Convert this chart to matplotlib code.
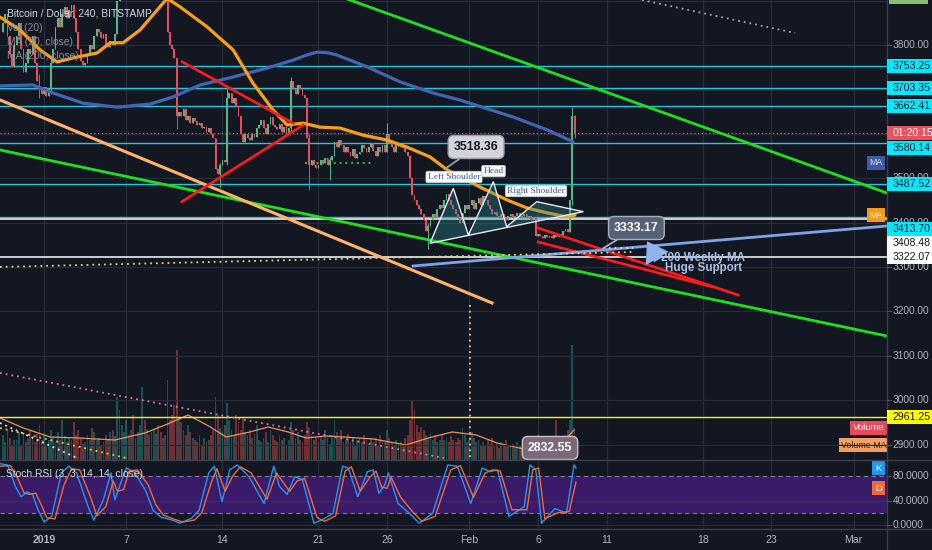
import numpy as np
import matplotlib
matplotlib.use('Agg')
import matplotlib.pyplot as plt
from matplotlib.lines import Line2D
from matplotlib.patches import Rectangle, Polygon

# x is measured in days since 2019-01-01 00:00, one candle every 4 hours
FIRST_DAY = -3.0
FIRST_OPEN = 3830.0
CLOSES = [
    3850, 3870, 3820, 3780, 3750, 3800,  # Dec 29
    3820, 3850, 3790, 3740, 3760, 3790,  # Dec 30
    3780, 3820, 3760, 3720, 3700, 3690,  # Dec 31
    3705, 3685, 3700, 3760, 3790, 3840,  # Jan 1
    3860, 3840, 3870, 3885, 3860, 3880,  # Jan 2
    3890, 3860, 3830, 3790, 3765, 3755,  # Jan 3
    3760, 3780, 3800, 3790, 3820, 3835,  # Jan 4
    3830, 3815, 3825, 3800, 3795, 3810,  # Jan 5
    3800, 3825, 3900, 3980, 4010, 4020,  # Jan 6
    4040, 4010, 4030, 4000, 3985, 4010,  # Jan 7
    4030, 4070, 4010, 4020, 4000, 4015,  # Jan 8
    4020, 4040, 4010, 4000, 4010, 3995,  # Jan 9
    3830, 3800, 3790, 3770, 3640, 3650,  # Jan 10
    3640, 3655, 3630, 3640, 3625, 3635,  # Jan 11
    3628, 3620, 3625, 3612, 3616, 3605,  # Jan 12
    3612, 3600, 3590, 3520, 3510, 3530,  # Jan 13
    3540, 3536, 3680, 3692, 3670, 3680,  # Jan 14
    3662, 3640, 3600, 3582, 3600, 3590,  # Jan 15
    3585, 3600, 3592, 3612, 3620, 3630,  # Jan 16
    3612, 3600, 3622, 3638, 3620, 3615,  # Jan 17
    3610, 3622, 3605, 3615, 3600, 3612,  # Jan 18
    3720, 3700, 3690, 3710, 3700, 3688,  # Jan 19
    3680, 3590, 3530, 3542, 3530, 3522,  # Jan 20
    3530, 3540, 3535, 3545, 3530, 3540,  # Jan 21
    3550, 3582, 3570, 3585, 3575, 3560,  # Jan 22
    3570, 3560, 3550, 3565, 3545, 3555,  # Jan 23
    3560, 3575, 3568, 3560, 3570, 3580,  # Jan 24
    3562, 3550, 3570, 3558, 3575, 3560,  # Jan 25
    3600, 3580, 3570, 3560, 3580, 3570,  # Jan 26
    3575, 3568, 3560, 3550, 3500, 3462,  # Jan 27
    3450, 3440, 3430, 3420, 3405, 3380,  # Jan 28
    3392, 3405, 3420, 3410, 3430, 3440,  # Jan 29
    3432, 3452, 3465, 3450, 3440, 3430,  # Jan 30
    3420, 3410, 3400, 3422, 3440, 3430,  # Jan 31
    3440, 3452, 3430, 3445, 3455, 3440,  # Feb 1
    3460, 3450, 3440, 3430, 3420, 3425,  # Feb 2
    3415, 3410, 3420, 3410, 3405, 3415,  # Feb 3
    3420, 3410, 3415, 3422, 3410, 3415,  # Feb 4
    3420, 3410, 3415, 3405, 3410, 3370,  # Feb 5
    3375, 3370, 3365, 3372, 3368, 3370,  # Feb 6
    3365, 3372, 3368, 3375, 3370, 3380,  # Feb 7
    3385, 3378, 3450, 3640, 3601,        # Feb 8
]
VOLUMES = [
    1250, 900, 1500, 1100, 750, 1000,
    1000, 1400, 750, 1250, 900, 1100,
    1500, 1100, 900, 1300, 1750, 1000,
    1250, 750, 1000, 1500, 1100, 900,
    1400, 1000, 2000, 1200, 900, 1100,
    1000, 1900, 1250, 1500, 1100, 800,
    900, 1250, 1000, 1600, 1400, 1000,
    1100, 750, 900, 1250, 1000, 1400,
    1500, 1200, 3150, 2500, 1750, 1400,
    2000, 1250, 1500, 2250, 1100, 1400,
    1750, 3650, 2000, 1500, 1250, 1400,
    1500, 1300, 1750, 1400, 1100, 1250,
    4000, 2000, 2250, 2750, 5500, 2100,
    1900, 1500, 1250, 1750, 1400, 1100,
    1000, 900, 1250, 750, 1100, 900,
    1000, 1250, 1500, 3150, 2250, 1600,
    1400, 1750, 2850, 2000, 1500, 1250,
    2250, 1900, 1500, 2100, 1400, 1250,
    1500, 1100, 1300, 1750, 1000, 900,
    1100, 1400, 900, 1500, 1250, 1000,
    900, 1250, 1000, 1100, 750, 1000,
    1900, 1500, 1100, 1400, 1000, 900,
    1250, 1900, 1600, 1300, 1000, 1100,
    900, 1200, 1000, 1500, 1100, 800,
    1250, 2000, 1400, 1100, 1500, 900,
    1000, 1300, 900, 1100, 750, 1000,
    1100, 900, 1250, 1000, 800, 1100,
    900, 1100, 750, 1250, 1000, 900,
    1500, 1100, 900, 750, 1000, 800,
    900, 750, 1100, 1250, 2000, 3000,
    2500, 1750, 1400, 1650, 1500, 1250,
    1100, 1300, 1000, 1250, 900, 1000,
    1250, 1000, 1100, 900, 1200, 1000,
    900, 1100, 1000, 1600, 1250, 900,
    1000, 1400, 1100, 900, 1000, 750,
    900, 750, 1000, 800, 1100, 700,
    800, 600, 900, 700, 1000, 750,
    700, 800, 600, 900, 750, 650,
    750, 600, 900, 700, 800, 1100,
    1250, 900, 750, 1000, 800, 700,
    800, 900, 2000, 1100, 750, 1000,
    1250, 1500, 2000, 5750, 1600,
]
# candle index -> (high, low) for the visible wicks
WICKS = {16: (3735, 3680), 21: (3775, 3690), 76: (3770, 3610), 95: (3535, 3480),
         98: (3700, 3530), 126: (3728, 3605), 134: (3600, 3473), 143: (3548, 3496),
         168: (3625, 3560), 186: (3400, 3340), 249: (3660, 3440), 250: (3642, 3590)}

MA50_DAYS = [-3.21, -1.75, -0.29, 0.95, 2.41, 3.86, 4.81, 5.76, 7.0, 8.0, 8.97, 9.91, 11.88,
             13.78, 15.23, 16.69, 17.71, 18.88, 20.12, 21.57, 23.25, 25.0, 26.46, 28.13,
             29.37, 31.78, 33.75, 35.2, 36.66, 38.12, 38.7]
MA50_VALS = [3863, 3834, 3789, 3762, 3773, 3782, 3805, 3805, 3834, 3870, 3905, 3886, 3841,
             3789, 3714, 3654, 3620, 3624, 3615, 3613, 3597, 3586, 3570, 3548,
             3519, 3480, 3451, 3433, 3422, 3413, 3417]
MA200_DAYS = [-3.21, -0.80, 0.66, 2.84, 5.32, 7.73, 9.40, 11.37, 13.78, 16.25, 18.15, 19.2,
              19.9, 20.6, 21.3, 23.54, 25.95, 28.35, 30.32, 34.18, 36.66, 38.56]
MA200_VALS = [3708, 3710, 3692, 3669, 3660, 3667, 3683, 3710, 3728, 3748, 3766, 3778,
              3784, 3783, 3778, 3751, 3717, 3692, 3676, 3638, 3609, 3582]

VMA_DAYS = [-3.21, -1.5, 0.44, 2.5, 5.17, 7.36, 9.0, 10.5, 12.0, 13.27, 15.0, 16.33, 17.8,
            19.1, 20.5, 21.87, 24.0, 26.38, 28.0, 29.74, 31.5, 33.02, 35.28, 37.5, 38.63]
VMA_VALS = [2100, 1600, 1150, 1100, 1000, 1350, 1800, 2250, 1700, 1150, 1400, 1650, 1400,
            1100, 1200, 1150, 1050, 750, 1100, 1400, 1250, 850, 500, 650, 1500]

K_DAYS = [-3.21, -2.65, -2.09, -1.67, -1.25, -0.84, -0.42, 0.0, 0.56, 1.26, 1.81, 2.37, 3.21,
          3.63, 4.32, 4.88, 5.16, 5.58, 6.0, 6.55, 7.39, 7.95, 8.51, 9.35, 9.91, 10.74, 11.3,
          12.0, 12.41, 12.97, 13.53, 14.09, 14.93, 16.04, 16.74, 17.16, 17.71, 18.27, 18.83,
          19.67, 20.23, 21.06, 21.76, 22.18, 22.87, 23.57, 23.99, 24.41, 24.83, 25.1, 25.8,
          26.64, 27.34, 28.32, 29.43, 30.13, 31.1, 31.94, 32.5, 33.05, 33.89, 35.0, 35.42,
          35.84, 36.26, 37.24, 38.08, 38.63, 38.77]
K_VALS = [100, 98, 63, 46, 54, 50, 24, 5, 14, 85, 96, 85, 30, 8, 41, 85, 41, 68, 93, 87,
          57, 24, 13, 8, 3, 11, 24, 85, 96, 38, 90, 98, 79, 35, 96, 63, 50, 79, 74, 3,
          8, 19, 96, 93, 46, 87, 90, 52, 65, 85, 35, 19, 3, 19, 98, 96, 35, 93, 87, 90,
          14, 30, 98, 90, 3, 27, 19, 98, 93]
D_DAYS = [-3.21, -2.45, -1.9, -1.45, -1.05, -0.6, -0.2, 0.2, 0.8, 1.45, 2.0, 2.6, 3.4, 3.85,
          4.5, 5.05, 5.35, 5.8, 6.2, 6.8, 7.6, 8.15, 8.7, 9.55, 10.1, 10.95, 11.5, 12.2, 12.6,
          13.2, 13.75, 14.3, 15.1, 16.25, 16.95, 17.35, 17.9, 18.45, 19.0, 19.9, 20.45, 21.25,
          21.95, 22.4, 23.05, 23.75, 24.2, 24.6, 25.0, 25.3, 26.0, 26.85, 27.55, 28.5, 29.65,
          30.35, 31.3, 32.15, 32.7, 33.25, 34.1, 35.2, 35.62, 36.05, 36.5, 37.45, 38.28, 38.77]
D_VALS = [96, 97, 75, 52, 50, 52, 33, 12, 10, 65, 92, 90, 45, 15, 30, 72, 55, 58, 88, 90,
          65, 33, 16, 9, 5, 8, 20, 70, 92, 55, 80, 95, 85, 42, 85, 72, 55, 72, 76, 12,
          6, 15, 88, 95, 55, 78, 88, 62, 60, 78, 45, 22, 6, 14, 90, 97, 45, 85, 90, 88,
          25, 25, 90, 93, 10, 20, 22, 70]

CYAN_LEVELS = [3753.25, 3703.35, 3662.41, 3580.14, 3487.52, 3413.70]
WHITE_LEVELS = [3408.48, 3322.07]
YELLOW_LEVEL = 2961.25
TOP_TAG = 3901.26
COUNTDOWN = '01:20:15'

# drawings, (day, price) end points
GREEN_LINES = [((21.5, 3910.3), (61.44, 3466.7)), ((-3.21, 3563.6), (61.44, 3144.6))]
PEACH_LINE = ((-3.21, 3676.2), (32.65, 3219.0))
RED_LINES = [((10.06, 3762.4), (18.17, 3623.7)), ((10.04, 3447.1), (18.90, 3619.9)),
             ((36.01, 3387.9), (50.58, 3237.0)), ((36.01, 3356.4), (48.76, 3255.0))]
WEEKLY_MA200 = ((26.90, 3302.3), (61.44, 3392.4))
HS_POINTS = [(28.13, 3353.4), (29.83, 3477.3), (30.93, 3372.1), (32.75, 3492.2),
             (33.72, 3390.8), (35.91, 3447.1), (39.31, 3424.6)]
HS_LABELS = [('Left Shoulder', 29.88, 3502.7), ('Head', 32.76, 3516.0),
             ('Right Shoulder', 35.86, 3471.2)]
CALLOUT_HI = ('3518.36', (29.23, 3521.0), (31.49, 3570.3))
CALLOUT_LO = ('3333.17', (40.74, 3342.0), (43.18, 3387.9))
CALLOUT_VOL = ('2832.55', (36.88, 2892.4))
SUPPORT_ARROW = ((44.75, 3316.0), (43.95, 3358.0))
SUPPORT_TEXT = [('200 Weekly MA', 48.05, 3321.4), ('Huge Support', 48.05, 3296.7)]
DOTTED_LINES = [  # (start, end, colour)
    ((-3.21, 3300.1), (42.93, 3333.8), '#e3d36a'),
    ((40.74, 3342.2), (42.93, 3342.2), '#d8dce6'),
    ((19.02, 3534.3), (23.91, 3534.3), '#43d13a'),
    ((-3.21, 3061.3), (29.15, 2869.9), '#d9789b'),
    ((-3.21, 2948.7), (2.41, 2869.8), '#e8e8e8'),
    ((-3.21, 2937.4), (5.98, 2869.8), '#e3c84a'),
    ((31.05, 3214.4), (31.05, 2865.0), '#e8c79a'),
    ((43.59, 3901.4), (54.74, 3827.1), '#a0a4ad'),
]

PRICE_TICKS = [2900, 3000, 3100, 3200, 3300, 3400, 3500, 3800]
STOCH_TICKS = [0, 40, 80]
DATE_TICKS = [0, 6, 13, 20, 25, 31, 36, 41, 48, 53, 59]
DATE_LABELS = ['2019', '7', '14', '21', '26', 'Feb', '6', '11', '18', '23', 'Mar']

# view ranges
X_RANGE = (-3.21, 61.44)
PRICE_RANGE = (2865.3, 3901.4)
VOL_RANGE = (0, 23000)
STOCH_RANGE = (-6.5, 106.1)

BG = '#131722'
GRID = '#282c38'
TXT = '#b2b5be'
UP, DOWN = '#53b987', '#eb4d5c'
CYAN = '#22c7dc'
TAG_SHIFT_PX = {3580.14: 5, 3413.70: 12.5, 3408.48: 24}
AXIS_FS = 7.3
TAG_FS = 7.6

plt.rcParams['font.family'] = ['Liberation Sans', 'DejaVu Sans']

W, H = 932, 550
fig = plt.figure(figsize=(W / 100, H / 100), dpi=100, facecolor=BG)
main_rect = [0, 1 - 460 / H, 887 / W, 460 / H]
ax_vol = fig.add_axes(main_rect, zorder=0)
ax = fig.add_axes(main_rect, zorder=1)
ax_pr = fig.add_axes([887 / W, 1 - 460 / H, 45 / W, 460 / H], zorder=2)
ax_st = fig.add_axes([0, 1 - 529 / H, 887 / W, 69 / H], zorder=1)
ax_sr = fig.add_axes([887 / W, 1 - 529 / H, 45 / W, 69 / H], zorder=2)
for a in (ax_vol, ax, ax_pr, ax_st, ax_sr):
    a.set_axis_off()
for a in (ax_vol, ax, ax_st):
    a.set_xlim(*X_RANGE)
ax.set_ylim(*PRICE_RANGE)
ax_pr.set_ylim(*PRICE_RANGE)
ax_pr.set_xlim(0, 1)
ax_vol.set_ylim(*VOL_RANGE)
ax_st.set_ylim(*STOCH_RANGE)
ax_sr.set_ylim(*STOCH_RANGE)
ax_sr.set_xlim(0, 1)

upx = (PRICE_RANGE[1] - PRICE_RANGE[0]) / 460.0
vpx = (VOL_RANGE[1] - VOL_RANGE[0]) / 460.0
spx = (STOCH_RANGE[1] - STOCH_RANGE[0]) / 69.0

# grid
for d in DATE_TICKS:
    ax_vol.axvline(d, color=GRID, lw=0.9, zorder=0)
    ax_st.axvline(d, color=GRID, lw=0.9, zorder=0)
for p in range(2900, 3901, 100):
    ax.axhline(p, color=GRID, lw=0.9, zorder=0)

# candles and volume
closes = np.array(CLOSES, float)
opens = np.r_[FIRST_OPEN, closes[:-1]]
days = FIRST_DAY + np.arange(len(closes)) / 6.0
up = closes >= opens
highs = np.maximum(opens, closes)
lows = np.minimum(opens, closes)
for i, (hi, lo) in WICKS.items():
    highs[i] = max(highs[i], hi)
    lows[i] = min(lows[i], lo)
cols = np.where(up, UP, DOWN)
ax_vol.bar(days, VOLUMES, width=0.13, color=np.where(up, '#26a69a', '#ef5350'), alpha=0.42, zorder=1)
ax_vol.plot(VMA_DAYS, VMA_VALS, color='#e8955a', lw=0.9, zorder=2)
ax.vlines(days, lows, highs, colors=cols, lw=0.7, zorder=3)
ax.bar(days, np.maximum(np.abs(closes - opens), 1.5), bottom=np.minimum(opens, closes),
       width=0.13, color=cols, zorder=3)

# horizontal levels
for p in CYAN_LEVELS:
    ax.axhline(p, color=CYAN, lw=1.0, zorder=2)
for p in WHITE_LEVELS:
    ax.axhline(p, color='white', lw=1.1, zorder=2)
ax.axhline(YELLOW_LEVEL, color='#f5f500', lw=1.0, zorder=2)
ax.axhline(closes[-1], color='#ef5350', lw=0.9, ls=(0, (1, 2)), zorder=2)

# moving averages
ax.plot(MA200_DAYS, MA200_VALS, color='#4264b4', lw=2.3, zorder=4, solid_capstyle='round')
ax.plot(MA50_DAYS, MA50_VALS, color='#f5a016', lw=2.3, zorder=4, solid_capstyle='round')

# trend lines
for (a0, a1) in GREEN_LINES:
    ax.plot([a0[0], a1[0]], [a0[1], a1[1]], color='#1ee01e', lw=2.0, zorder=5)
ax.plot([PEACH_LINE[0][0], PEACH_LINE[1][0]], [PEACH_LINE[0][1], PEACH_LINE[1][1]],
        color='#ffb26b', lw=2.2, zorder=5)
for (a0, a1) in RED_LINES:
    ax.plot([a0[0], a1[0]], [a0[1], a1[1]], color='#ff1b1b', lw=1.9, zorder=5)
ax.plot([WEEKLY_MA200[0][0], WEEKLY_MA200[1][0]], [WEEKLY_MA200[0][1], WEEKLY_MA200[1][1]],
        color='#7fa3e6', lw=2.0, zorder=5)
for (a0, a1, c) in DOTTED_LINES:
    ax.plot([a0[0], a1[0]], [a0[1], a1[1]], color=c, lw=1.3, ls=(0, (1, 2.2)), zorder=5)

# head and shoulders
ax.add_patch(Polygon(HS_POINTS, closed=True, fc='#2a8f94', alpha=0.35, ec='none', zorder=5))
ax.add_patch(Polygon(HS_POINTS, closed=True, fill=False, ec='#e8eaee', lw=1.0, zorder=6))
for txt, d, p in HS_LABELS:
    ax.text(d, p, txt, ha='center', va='center', fontsize=6.8, color='#3d5aa8',
            family='Liberation Serif', zorder=8,
            bbox=dict(boxstyle='round,pad=0.18', fc='white', ec='#c8ccd4', lw=0.6))

# callouts
for (txt, anchor, box), fc, ec, tc in ((CALLOUT_HI, '#d2d4d8', '#9a9ea6', '#131722'),
                                       (CALLOUT_LO, '#566176', '#a6afbf', 'white')):
    ax.annotate(txt, xy=anchor, xytext=box, ha='center', va='center', fontsize=8.8,
                fontweight='bold', color=tc, zorder=8,
                bbox=dict(boxstyle='round,pad=0.45', fc=fc, ec=ec, lw=1.0),
                arrowprops=dict(arrowstyle='-', color=ec, lw=1.3, shrinkA=0, shrinkB=0))
ax.text(CALLOUT_VOL[1][0], CALLOUT_VOL[1][1], CALLOUT_VOL[0], ha='center', va='center',
        fontsize=8.8, fontweight='bold', color='white', zorder=8,
        bbox=dict(boxstyle='round,pad=0.45', fc='#7c6878', ec='#c9c0c8', lw=1.0))
ax.annotate('', xy=SUPPORT_ARROW[1], xytext=SUPPORT_ARROW[0], zorder=8,
            arrowprops=dict(arrowstyle='simple,tail_width=0.4,head_width=1.2,head_length=0.9',
                            mutation_scale=16, fc='#8fb3ec', ec='none', shrinkA=0, shrinkB=0))
for txt, d, p in SUPPORT_TEXT:
    ax.text(d, p, txt, ha='center', va='center', fontsize=8.4, fontweight='bold',
            color='#aabfe3', zorder=8)

# legend texts
ax.text(7 / 887, 1 - 14 / 460, 'Bitcoin / Dollar, 240, BITSTAMP', transform=ax.transAxes,
        fontsize=7.4, color='#d1d4dc', va='center', zorder=9)
for k, txt in enumerate(['Vol (20)', 'MA (50, close)', 'MA (200, close)']):
    ax.text(7 / 887, 1 - (28 + 14 * k) / 460, txt, transform=ax.transAxes,
            fontsize=7.4, color='#8a8d96', va='center', zorder=9)


def tag(a, y, text, fc, tc, unit, x0=0.0, w=1.0, tx=0.13, h=14, size=TAG_FS, tr=None):
    tr = tr or a.transData
    a.add_patch(Rectangle((x0, y - h / 2 * unit), w, h * unit, fc=fc, ec='none',
                          zorder=6, transform=tr))
    a.text(x0 + tx * w, y, text, color=tc, fontsize=size, va='center', ha='left',
           zorder=7, transform=tr, clip_on=True)


# price axis
for p in PRICE_TICKS:
    ax_pr.text(0.13, p, f'{p:.2f}', color=TXT, fontsize=AXIS_FS, va='center', zorder=2)
    ax_pr.plot([0, 0.08], [p, p], color='#50535e', lw=0.8, zorder=2)
for p in CYAN_LEVELS:
    tag(ax_pr, p - TAG_SHIFT_PX.get(p, 0) * upx, f'{p:.2f}', '#00eaff', '#131722', upx)
for p in WHITE_LEVELS:
    tag(ax_pr, p - TAG_SHIFT_PX.get(p, 0) * upx, f'{p:.2f}', 'white', '#131722', upx)
tag(ax_pr, YELLOW_LEVEL, f'{YELLOW_LEVEL:.2f}', '#ffff00', '#131722', upx)
tag(ax_pr, closes[-1], COUNTDOWN, '#e9515f', 'white', upx)
tag(ax_pr, TOP_TAG + 3.5 * upx, f'{TOP_TAG:.2f}', '#8cbf72', '#131722', upx, x0=0.05, w=0.85)

# MA tags inside the price pane
ytr = ax.get_yaxis_transform()
tag(ax, MA200_VALS[-1] - 21 * upx, 'MA', '#3e5aa8', '#dfe3ee', upx, x0=867 / 887,
    w=18 / 887, tx=0.12, size=6.3, tr=ytr)
tag(ax, MA50_VALS[-1], 'MA', '#f59b16', '#fde7c4', upx, x0=867 / 887, w=18 / 887,
    tx=0.12, size=6.3, tr=ytr)
vtr = ax_vol.get_yaxis_transform()
tag(ax_vol, VOLUMES[-1], 'Volume', '#e8495b', 'white', vpx, x0=850 / 887, w=37 / 887,
    tx=0.08, size=6.8, tr=vtr)
tag(ax_vol, VMA_VALS[-1] - 15 * vpx, 'Volume MA', '#f4a062', '#3a2410', vpx, x0=839 / 887,
    w=48 / 887, tx=0.04, size=6.4, tr=vtr)

# stoch RSI pane
ax_st.fill_between(X_RANGE, 20, 80, color='#3a1b69', zorder=0, lw=0)
for v in STOCH_TICKS:
    if v != 80:
        ax_st.axhline(v, color='#34304a' if v == 40 else GRID, lw=0.9, zorder=1)
for v in (80, 20):
    ax_st.axhline(v, color='#7d7f8c', lw=0.8, ls=(0, (4, 3)), zorder=1)
ax_st.plot(K_DAYS, K_VALS, color='#2196f3', lw=1.0, zorder=3)
ax_st.plot(D_DAYS, D_VALS, color='#ef6a3a', lw=1.0, zorder=3)
ax_st.text(6 / 887, (529 - 474) / 69, 'Stoch RSI (3, 3, 14, 14, close)', transform=ax_st.transAxes,
           fontsize=7.4, color='#d1d4dc', va='center', zorder=5)
str_ = ax_st.get_yaxis_transform()
tag(ax_st, K_VALS[-1], 'K', '#2196f3', 'white', spx, x0=872 / 887, w=13 / 887, tx=0.28,
    size=6.8, tr=str_)
tag(ax_st, D_VALS[-1] - 6 * spx, 'D', '#ec6a3d', 'white', spx, x0=872 / 887, w=13 / 887,
    tx=0.28, size=6.8, tr=str_)
for v in STOCH_TICKS:
    ax_sr.text(0.13, v, f'{v:.4f}', color=TXT, fontsize=AXIS_FS, va='center')
    ax_sr.plot([0, 0.08], [v, v], color='#50535e', lw=0.8)

# date labels
xtr = ax_st.get_xaxis_transform()
for d, lab in zip(DATE_TICKS, DATE_LABELS):
    ax_st.text(d, -11 / 69, lab, transform=xtr, ha='center', va='center', fontsize=7.6,
               color=TXT, fontweight='bold' if lab == '2019' else 'normal', clip_on=False)

# pane separators
sep = '#3b3f4b'
fig.add_artist(Line2D([887 / W, 887 / W], [0, 1], color=sep, lw=1.0, transform=fig.transFigure))
for yy in (460, 529):
    fig.add_artist(Line2D([0, 1], [1 - yy / H, 1 - yy / H], color=sep, lw=1.0,
                          transform=fig.transFigure))

fig.savefig('out.png', dpi=100, facecolor=BG)
